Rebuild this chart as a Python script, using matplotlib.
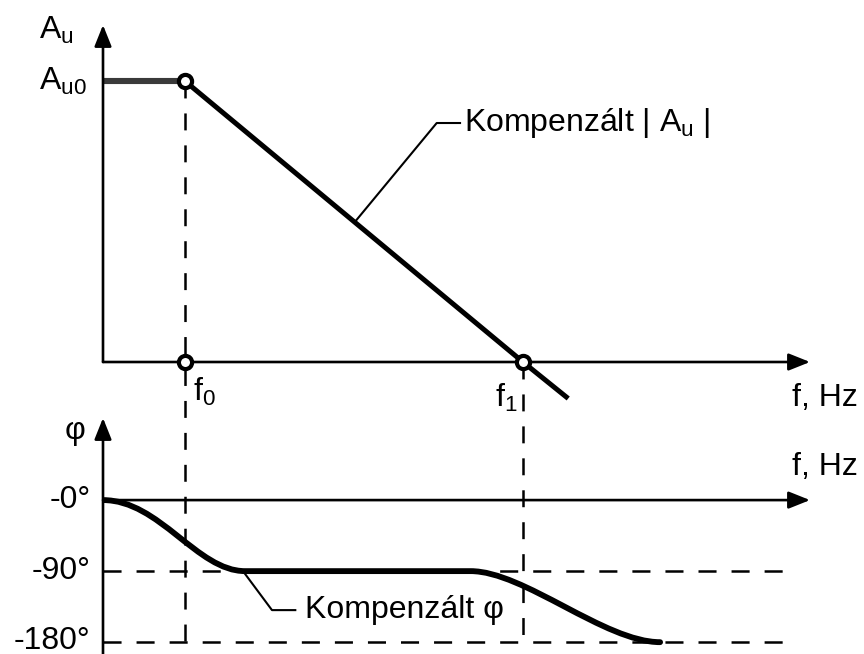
import matplotlib.pyplot as plt
from matplotlib.path import Path
from matplotlib.patches import PathPatch

plt.rcParams['font.family'] = ['Liberation Sans', 'DejaVu Sans']
plt.rcParams['lines.scale_dashes'] = False
plt.rcParams['mathtext.fontset'] = 'custom'
plt.rcParams['mathtext.rm'] = 'Liberation Sans'

# frequency position (0..100 along the axis), break points
f0 = 11.6
f1 = 59.4

# asymptotic magnitude, normalised to A_u0 = 1
mag_x = [0, f0, f1, 65.8]
mag_y = [1.0, 1.0, 0.0, -0.13]

# compensated phase: two S-shaped steps (cubic Bezier nodes) with a flat part between
ph_x = [0, 8.0, 13.3, 20.1, 52.0, 59.5, 71.0, 78.8]
ph_y = [0, 0, -90, -90, -90, -90, -180, -180]
ph_codes = [Path.MOVETO, Path.CURVE4, Path.CURVE4, Path.CURVE4,
            Path.LINETO, Path.CURVE4, Path.CURVE4, Path.CURVE4]

phase_ticks = [0, -90, -180]
phase_labels = ['-0°', '-90°', '-180°']

FS = 23
dash_v = (0, (12.2, 10.8))
dash_h = (0, (13, 10.8))

fig = plt.figure(figsize=(8.64, 6.54), dpi=100)
ax1 = fig.add_axes([103 / 864, 292 / 654, 707 / 864, 337 / 654])
ax2 = fig.add_axes([103 / 864, 0, 707 / 864, 236 / 654])
ax1.set_xlim(0, 100)
ax1.set_ylim(0, 1.2)
ax2.set_xlim(0, 100)
ax2.set_ylim(-195, 104)
for ax in (ax1, ax2):
    ax.set_axis_off()
    ax.patch.set_visible(False)

arrow = dict(arrowstyle='-|>,head_length=1.0,head_width=0.4', mutation_scale=13,
             color='black', lw=1.9, shrinkA=0, shrinkB=0)

# --- magnitude diagram ---
ax1.annotate('', xy=(100, 0), xytext=(0, 0), arrowprops=arrow, annotation_clip=False)
ax1.annotate('', xy=(0, 1.2), xytext=(0, 0), arrowprops=arrow, annotation_clip=False)

ax1.plot([f0, f0], [1.0, -1.04], color='black', lw=1.8, ls=dash_v, clip_on=False)
ax1.plot([f1, f1], [0.0, -1.0], color='black', lw=1.8, ls=dash_v, clip_on=False)

ax1.plot(mag_x[:2], mag_y[:2], color='#3a3a3a', lw=4.4, solid_capstyle='butt', clip_on=False)
ax1.plot(mag_x[1:], mag_y[1:], color='black', lw=3.6, solid_capstyle='butt', clip_on=False)
ax1.plot([f0, f0, f1], [1.0, 0.0, 0.0], ls='none', marker='o', ms=9.5, mew=3.0,
         mfc='white', mec='black', clip_on=False, zorder=5)

ax1.plot([35.6, 47.2, 50.5], [0.498, 0.851, 0.851], color='black', lw=1.5)
ax1.text(51.0, 0.851, r'Kompenzált | A$_\mathregular{u}$ |', fontsize=FS, va='center', ha='left')

ax1.text(-9.0, 1.18, r'A$_\mathregular{u}$', fontsize=FS, va='center', ha='left')
ax1.text(-9.0, 1.0, r'A$_\mathregular{u0}$', fontsize=FS, va='center', ha='left')
ax1.text(12.7, -0.107, r'f$_\mathregular{0}$', fontsize=FS, va='center', ha='left')
ax1.text(55.4, -0.128, r'f$_\mathregular{1}$', fontsize=FS, va='center', ha='left')
ax1.text(97.4, -0.128, 'f, Hz', fontsize=FS, va='center', ha='left')

# --- phase diagram ---
ax2.annotate('', xy=(100, 0), xytext=(0, 0), arrowprops=arrow, annotation_clip=False)
ax2.annotate('', xy=(0, 104), xytext=(0, -195), arrowprops=arrow, annotation_clip=False)

ax2.plot([0, 97.6], [-90, -90], color='black', lw=1.8, ls=dash_h, clip_on=False)
ax2.plot([0, 97.9], [-180, -180], color='black', lw=1.8, ls=dash_h, clip_on=False)

phase_path = Path(list(zip(ph_x, ph_y)), ph_codes)
ax2.add_patch(PathPatch(phase_path, fill=False, edgecolor='black', lw=4.2,
                        capstyle='round', joinstyle='round'))

ax2.plot([19.8, 23.9, 27.2], [-90, -139.4, -139.4], color='black', lw=1.5)
ax2.text(28.6, -139.4, 'Kompenzált φ', fontsize=FS, va='center', ha='left')

for v, lab in zip(phase_ticks, phase_labels):
    ax2.text(-1.8, v + (2 if v == -180 else 0), lab, fontsize=FS, va='center', ha='right')
ax2.text(-4.0, 88, 'φ', fontsize=FS, va='center', ha='center')
ax2.text(97.4, 42, 'f, Hz', fontsize=FS, va='center', ha='left')

fig.savefig('out.png', dpi=100)
